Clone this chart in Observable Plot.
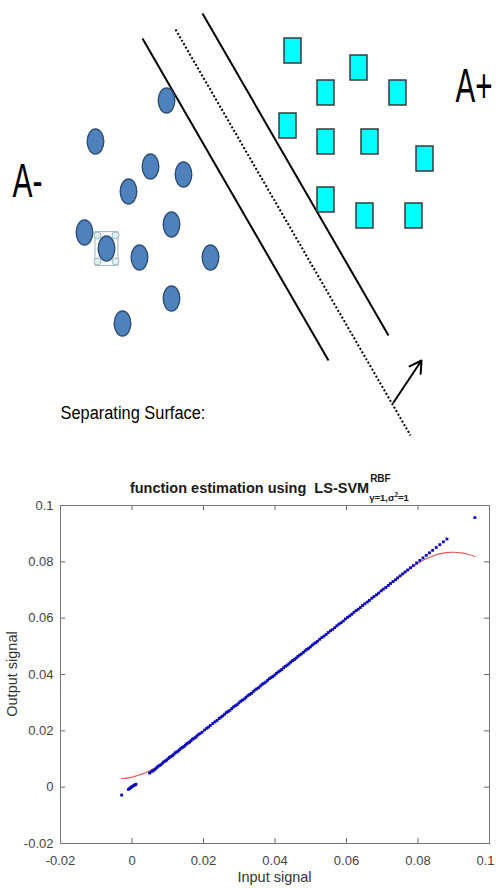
<!DOCTYPE html>
<html><head><meta charset="utf-8">
<script src="https://cdn.jsdelivr.net/npm/d3@7"></script>
<script src="https://cdn.jsdelivr.net/npm/@observablehq/plot@0.6"></script>
<style>
html,body{margin:0;padding:0;background:#fff}
body{width:496px;height:888px;position:relative;overflow:hidden;font-family:"Liberation Sans",Arial,sans-serif}
#top{position:absolute;left:0;top:0}
#bottom{position:absolute;left:0;top:495px}
#title{position:absolute;left:60px;width:429px;top:479px;text-align:center;font-weight:bold;font-size:14.5px;line-height:16px;white-space:nowrap;color:#1a1a1a;z-index:2}
#title .scripts{display:inline-block;position:relative;width:50px;height:14px;vertical-align:baseline;text-align:left}
#title .sup{position:absolute;left:1px;top:-6px;font-size:10px;line-height:11px}
#title .sub{position:absolute;left:0;top:13px;font-size:9.5px;line-height:11px}
#title .sub sup{font-size:6.5px;vertical-align:4px;line-height:0}
.lab{position:absolute;font-size:14.5px;color:#333;white-space:nowrap;z-index:2}
#xlab{left:60px;width:429px;text-align:center;top:869px}
#ylab{left:12px;top:674px;transform:translate(-50%,-50%) rotate(-90deg)}
</style>
</head><body>
<div id="top"></div>
<div id="title"><span>function estimation using&nbsp; LS-SVM</span><span class="scripts"><span class="sup">RBF</span><span class="sub">γ=1,σ<sup>2</sup>=1</span></span></div>
<div id="bottom"></div>
<div class="lab" id="xlab">Input signal</div>
<div class="lab" id="ylab">Output signal</div>
<script>
// ---------- Top diagram data (diagram units = pixels of the sketch) ----------
const circleX = [166, 95, 150, 183, 128, 171, 84, 106, 139, 210, 171, 122];
const circleY = [100, 141, 166, 174, 191, 224, 232, 248, 257, 257, 298, 323];
const selectedCircle = 7;
const squareX = [292, 358, 325, 397, 287, 325, 369, 424, 325, 364, 413];
const squareY = [50, 67, 92, 92, 125, 141, 141, 158, 199, 215, 215];
const boundaryX1 = [142, 202];
const boundaryY1 = [38, 13];
const boundaryX2 = [328, 388];
const boundaryY2 = [360, 335];
const surfaceX = [175, 410];
const surfaceY = [29, 435];
const normalArrow = [393, 402, 421, 360];
const labels = ["A-", "A+", "Separating Surface:"];
const labelX = [12, 455, 60];
const labelY = [181, 86, 412];

// ---------- Bottom chart data ----------
const xTicks = [-0.02, 0, 0.02, 0.04, 0.06, 0.08, 0.1];
const yTicks = [-0.02, 0, 0.02, 0.04, 0.06, 0.08, 0.1];
const blueX = [-0.0029, -0.0010, -0.0007, -0.0004, -0.0001, 0.0002, 0.0005, 0.0008, 0.0011,
 0.0049, 0.0053, 0.0057, 0.0061, 0.0065, 0.0069, 0.0073, 0.0077, 0.0081, 0.0085, 0.0089, 0.0093, 0.0097,
 0.0101, 0.0105, 0.0109, 0.0113, 0.0117, 0.0121, 0.0125, 0.0129, 0.0133, 0.0137, 0.0141, 0.0145, 0.0149,
 0.0153, 0.0157, 0.0161, 0.0165, 0.0169, 0.0173, 0.0177, 0.0181, 0.0185, 0.0190, 0.0196, 0.0203, 0.0209,
 0.0214, 0.0219, 0.0226, 0.0232, 0.0238, 0.0244, 0.0249, 0.0254, 0.0259, 0.0264, 0.0269, 0.0274, 0.0279,
 0.0284, 0.0289, 0.0294, 0.0299, 0.0304, 0.0309, 0.0314, 0.0319, 0.0324, 0.0329, 0.0334, 0.0339, 0.0344,
 0.0349, 0.0354, 0.0359, 0.0364, 0.0369, 0.0374, 0.0379, 0.0384, 0.0389, 0.0394, 0.0399, 0.0404, 0.0409,
 0.0414, 0.0419, 0.0424, 0.0429, 0.0434, 0.0439, 0.0444, 0.0449, 0.0454, 0.0459, 0.0464, 0.0469, 0.0474,
 0.0479, 0.0484, 0.0489, 0.0494, 0.0499, 0.0504, 0.0509, 0.0514, 0.0519, 0.0525, 0.0531, 0.0537, 0.0543,
 0.0549, 0.0555, 0.0561, 0.0567, 0.0573, 0.0579, 0.0585, 0.0591, 0.0597, 0.0603, 0.0609, 0.0615, 0.0621,
 0.0627, 0.0633, 0.0639, 0.0645, 0.0651, 0.0658, 0.0664, 0.0671, 0.0677, 0.0684, 0.0690, 0.0697, 0.0703,
 0.0710, 0.0717, 0.0723, 0.0730, 0.0737, 0.0743, 0.0750, 0.0757, 0.0764, 0.0771, 0.0779, 0.0787, 0.0796,
 0.0805, 0.0814, 0.0823, 0.0832, 0.0841, 0.0851, 0.0861, 0.0871, 0.0881, 0.0959];
const blueY = [-0.0028, -0.0008, -0.0005, -0.0002, 0.0001, 0.0003, 0.0006, 0.0008, 0.0010,
 0.0050, 0.0054, 0.0057, 0.0060, 0.0064, 0.0069, 0.0074, 0.0077, 0.0080, 0.0085, 0.0090, 0.0093, 0.0096,
 0.0101, 0.0106, 0.0109, 0.0112, 0.0117, 0.0122, 0.0125, 0.0128, 0.0133, 0.0138, 0.0141, 0.0144, 0.0149,
 0.0154, 0.0157, 0.0160, 0.0165, 0.0170, 0.0173, 0.0176, 0.0181, 0.0186, 0.0190, 0.0195, 0.0203, 0.0209,
 0.0213, 0.0219, 0.0226, 0.0232, 0.0237, 0.0244, 0.0249, 0.0253, 0.0259, 0.0265, 0.0269, 0.0273, 0.0279,
 0.0285, 0.0289, 0.0293, 0.0299, 0.0305, 0.0309, 0.0313, 0.0319, 0.0325, 0.0329, 0.0333, 0.0339, 0.0345,
 0.0349, 0.0353, 0.0359, 0.0365, 0.0369, 0.0373, 0.0379, 0.0385, 0.0389, 0.0393, 0.0398, 0.0404, 0.0409,
 0.0413, 0.0418, 0.0424, 0.0429, 0.0433, 0.0438, 0.0444, 0.0449, 0.0453, 0.0458, 0.0464, 0.0469, 0.0473,
 0.0478, 0.0484, 0.0489, 0.0493, 0.0498, 0.0504, 0.0509, 0.0513, 0.0518, 0.0525, 0.0531, 0.0536, 0.0542,
 0.0549, 0.0555, 0.0560, 0.0566, 0.0573, 0.0579, 0.0584, 0.0590, 0.0597, 0.0603, 0.0608, 0.0614, 0.0621,
 0.0627, 0.0632, 0.0638, 0.0645, 0.0651, 0.0657, 0.0663, 0.0671, 0.0677, 0.0683, 0.0689, 0.0697, 0.0703,
 0.0709, 0.0716, 0.0723, 0.0730, 0.0736, 0.0743, 0.0750, 0.0757, 0.0764, 0.0771, 0.0779, 0.0787, 0.0796,
 0.0805, 0.0814, 0.0823, 0.0832, 0.0841, 0.0851, 0.0861, 0.0871, 0.0881, 0.0957];
const redX = [-0.0029, -0.002, -0.001, 0, 0.001, 0.002, 0.003, 0.004, 0.005, 0.006, 0.007, 0.008, 0.010,
 0.015, 0.020, 0.030, 0.040, 0.050, 0.060, 0.070, 0.075, 0.078, 0.080, 0.082, 0.084, 0.086, 0.088, 0.090,
 0.092, 0.094, 0.0959];
const redY = [0.0031, 0.0031, 0.0033, 0.0036, 0.0039, 0.0043, 0.0048, 0.0053, 0.0058, 0.0065, 0.0072, 0.0080, 0.0100,
 0.0150, 0.0200, 0.0300, 0.0400, 0.0500, 0.0600, 0.0700, 0.0750, 0.0778, 0.0795, 0.0809, 0.0820, 0.0828, 0.0833, 0.0834,
 0.0832, 0.0827, 0.0819];

// ---------- custom symbols ----------
const K = 0.5523;
const ellipseSymbol = {draw(ctx, size) {
  const rx = Math.sqrt(size / Math.PI), ry = rx * 1.5;
  ctx.moveTo(rx, 0);
  ctx.bezierCurveTo(rx, ry * K, rx * K, ry, 0, ry);
  ctx.bezierCurveTo(-rx * K, ry, -rx, ry * K, -rx, 0);
  ctx.bezierCurveTo(-rx, -ry * K, -rx * K, -ry, 0, -ry);
  ctx.bezierCurveTo(rx * K, -ry, rx, -ry * K, rx, 0);
  ctx.closePath();
}};
const rectSymbol = {draw(ctx, size) {
  const w = Math.sqrt(size / Math.PI), h = w * 1.47;
  ctx.moveTo(-w, -h); ctx.lineTo(w, -h); ctx.lineTo(w, h); ctx.lineTo(-w, h); ctx.closePath();
}};

// ---------- top diagram ----------
const circles = circleX.map((x, i) => ({x, y: circleY[i]}));
const squares = squareX.map((x, i) => ({x, y: squareY[i]}));
const boundaries = boundaryX1.map((x1, i) => ({x1, y1: boundaryY1[i], x2: boundaryX2[i], y2: boundaryY2[i]}));
const surface = [{x1: surfaceX[0], y1: surfaceY[0], x2: surfaceX[1], y2: surfaceY[1]}];
const arrowD = [{x1: normalArrow[0], y1: normalArrow[1], x2: normalArrow[2], y2: normalArrow[3]}];
const sel = circles[selectedCircle];
const hx = 9, hy = 13;
const handles = [[-1,-1],[1,-1],[-1,1],[1,1]].map(([a,b]) => ({x: sel.x + a*hx, y: sel.y + b*hy}));
const textD = labels.map((t, i) => ({t, x: labelX[i], y: labelY[i]}));
const narrow = "'Liberation Sans Narrow','Liberation Sans',Arial,sans-serif";

const topPlot = Plot.plot({
  width: 496, height: 450, margin: 0,
  x: {domain: [0, 496], range: [0, 496], axis: null},
  y: {domain: [0, 450], range: [0, 450], axis: null},
  marks: [
    Plot.link(boundaries, {x1: "x1", y1: "y1", x2: "x2", y2: "y2", stroke: "#000", strokeWidth: 2}),
    Plot.link(surface, {x1: "x1", y1: "y1", x2: "x2", y2: "y2", stroke: "#000", strokeWidth: 2, strokeDasharray: "2 2"}),
    Plot.arrow(arrowD, {x1: "x1", y1: "y1", x2: "x2", y2: "y2", stroke: "#000", strokeWidth: 2, headLength: 10}),
    Plot.dot(circles, {x: "x", y: "y", r: 8.3, symbol: ellipseSymbol, fill: "#4F81BD", stroke: "#2C4D75", strokeWidth: 1.4}),
    Plot.dot([sel], {x: "x", y: "y", r: 11.5, symbol: rectSymbol, fill: "none", stroke: "#8AA0B0", strokeWidth: 1, strokeOpacity: 0.8}),
    Plot.dot(handles, {x: "x", y: "y", r: 3.5, fill: "#DDF2F5", stroke: "#9BB5BD", strokeWidth: 1}),
    Plot.dot(squares, {x: "x", y: "y", r: 8.5, symbol: rectSymbol, fill: "#00FFFF", stroke: "#3A3A3A", strokeWidth: 1.5}),
    Plot.text(textD.slice(0, 2), {x: "x", y: "y", text: "t", textAnchor: "start", lineAnchor: "middle", fontSize: 48, fontFamily: narrow, fill: "#000"}),
    Plot.text(textD.slice(2), {x: "x", y: "y", text: "t", textAnchor: "start", lineAnchor: "middle", fontSize: 19, fontFamily: narrow, fill: "#000"})
  ]
});
document.getElementById("top").appendChild(topPlot);
// condense the sketch labels horizontally to their drawn widths
const textWidths = {"A-": 30, "A+": 37, "Separating Surface:": 145};
d3.select(topPlot).selectAll("text").each(function() {
  const w = textWidths[this.textContent];
  if (!w) return;
  const len = this.getComputedTextLength();
  if (len > 0) {
    const t = this.getAttribute("transform") || "";
    this.setAttribute("transform", t + ` scale(${w / len},1)`);
  }
});

// ---------- bottom chart ----------
const blue = blueX.map((x, i) => ({x, y: blueY[i]}));
const red = redX.map((x, i) => ({x, y: redY[i]}));
const fmt = d => String(+d.toFixed(2));
const W = 496, H = 393, mL = 60, mR = 7, mT = 10, mB = 45;
const pw = W - mL - mR, ph = H - mT - mB;
const bottomPlot = Plot.plot({
  width: W, height: H, marginLeft: mL, marginRight: mR, marginTop: mT, marginBottom: mB,
  style: {fontFamily: "'Liberation Sans',Arial,sans-serif", fontSize: "13px", color: "#444", background: "transparent"},
  x: {domain: [-0.02, 0.1]},
  y: {domain: [-0.02, 0.1]},
  marks: [
    Plot.line(red, {x: "x", y: "y", stroke: "#E2575A", strokeWidth: 1.2, curve: "catmull-rom"}),
    Plot.dot(blue, {x: "x", y: "y", r: 1.6, symbol: "square", fill: "#0A0ABE", stroke: "none"}),
    Plot.ruleX(xTicks, {x: d => d, insetTop: ph - 5, stroke: "#666"}),
    Plot.ruleX(xTicks, {x: d => d, insetBottom: ph - 5, stroke: "#666"}),
    Plot.ruleY(yTicks, {y: d => d, insetRight: pw - 5, stroke: "#666"}),
    Plot.ruleY(yTicks, {y: d => d, insetLeft: pw - 5, stroke: "#666"}),
    Plot.frame({stroke: "#777"}),
    Plot.axisX(xTicks, {anchor: "bottom", tickSize: 0, tickPadding: 12, tickFormat: fmt, label: null}),
    Plot.axisY(yTicks, {anchor: "left", tickSize: 0, tickPadding: 7, tickFormat: fmt, label: null})
  ]
});
// keep the last x tick label inside the page edge
d3.select(bottomPlot).selectAll("g[aria-label='x-axis tick label'] text").each(function() {
  if (this.textContent === "0.1") this.setAttribute("dx", "-4");
});
document.getElementById("bottom").appendChild(bottomPlot);
</script>
</body></html>
